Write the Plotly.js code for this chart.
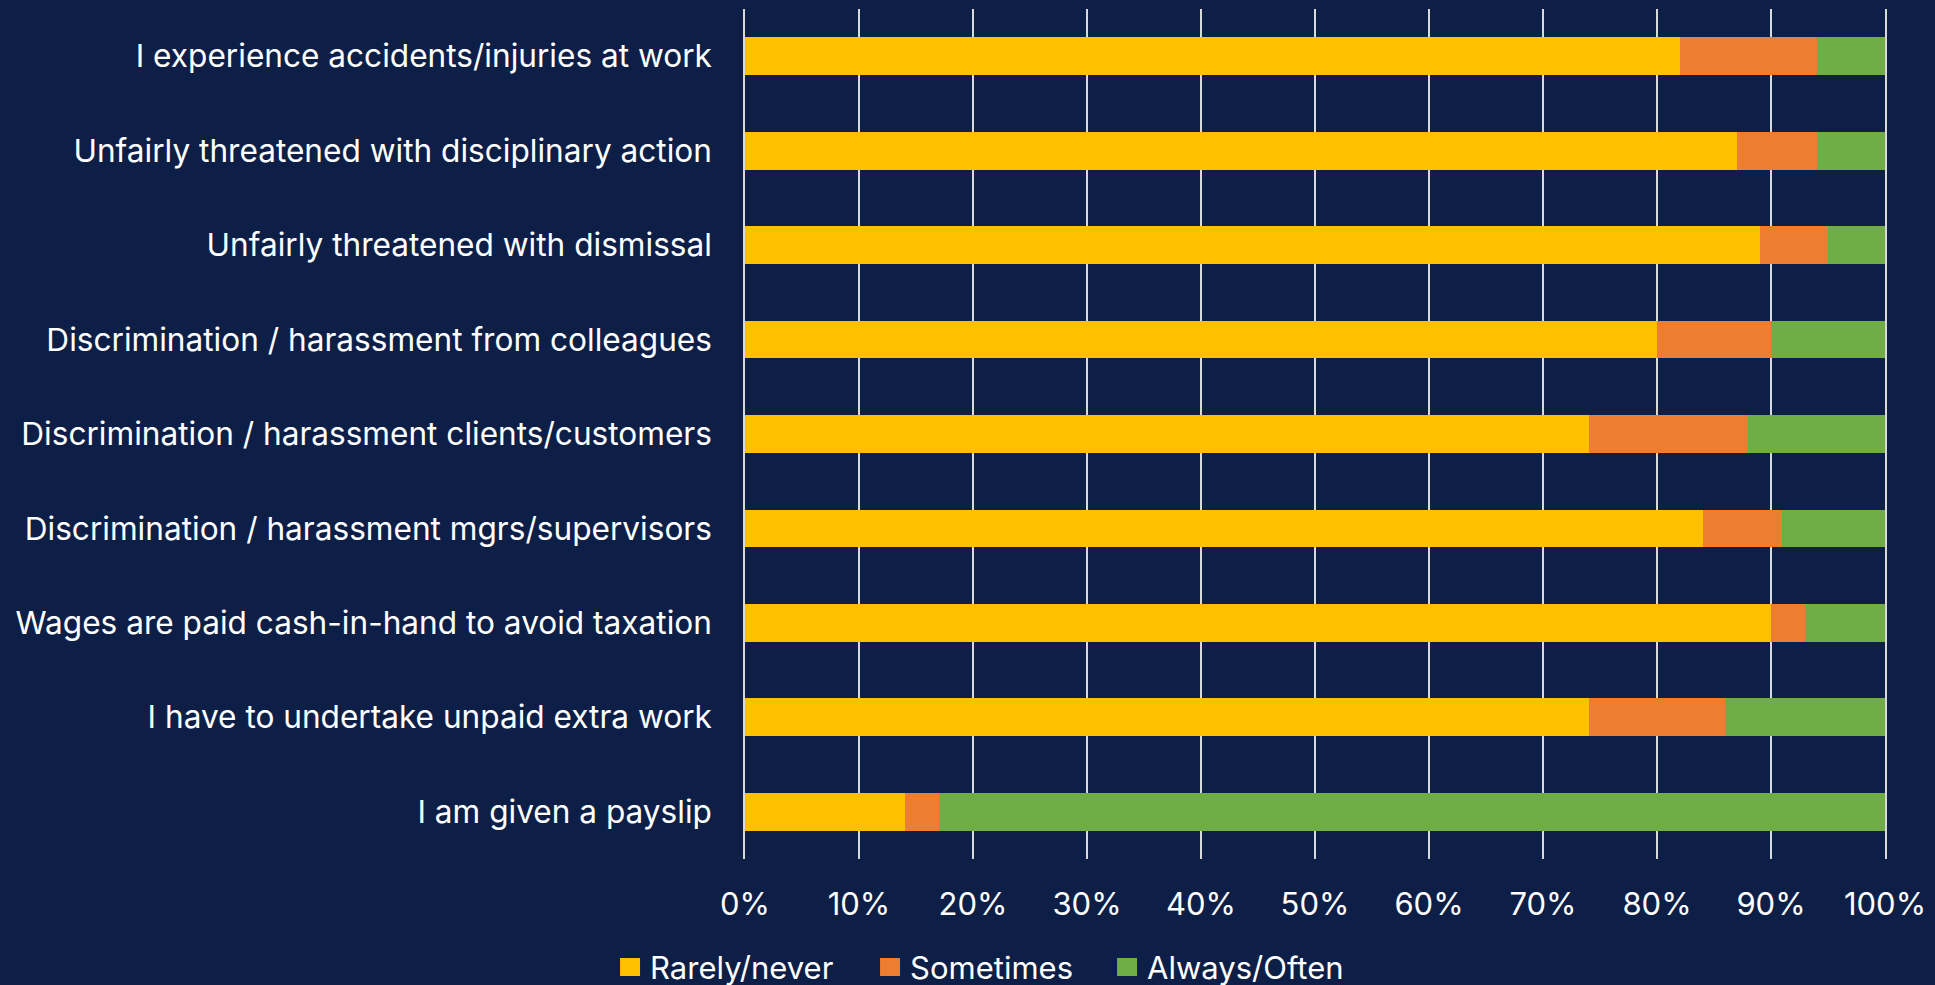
<!DOCTYPE html>
<html>
<head>
<meta charset="utf-8">
<script src="https://cdn.plot.ly/plotly-3.0.1.min.js"></script>
<style>
html,body{margin:0;padding:0;background:#0e1f47;}
#chart{width:1935px;height:985px;}
</style>
</head>
<body>
<div id="chart"></div>
<script>
const categories = [
  "I experience accidents/injuries at work",
  "Unfairly threatened with disciplinary action",
  "Unfairly threatened with dismissal",
  "Discrimination / harassment from colleagues",
  "Discrimination / harassment clients/customers",
  "Discrimination / harassment mgrs/supervisors",
  "Wages are paid cash-in-hand to avoid taxation",
  "I have to undertake unpaid extra work",
  "I am given a payslip"
];
const rarelyNever = [82, 87, 89, 80, 74, 84, 90, 74, 14];
const sometimes   = [12, 7, 6, 10, 14, 7, 3, 12, 3];
const alwaysOften = [6, 6, 5, 10, 12, 9, 7, 14, 83];
const seriesNames = ["Rarely/never", "Sometimes", "Always/Often"];
const tickVals = [0,10,20,30,40,50,60,70,80,90,100];
const tickText = ["0%","10%","20%","30%","40%","50%","60%","70%","80%","90%","100%"];

const colors = ["#ffc000", "#ed7d31", "#70ad47"];
const legendWidths = [215, 192, 200];
const font = "Inter, 'Open Sans', sans-serif";
const fs = 31;

const data = [rarelyNever, sometimes, alwaysOften].map((vals, i) => ({
  type: "bar",
  orientation: "h",
  name: seriesNames[i],
  y: categories,
  x: vals,
  legendwidth: legendWidths[i],
  marker: {color: colors[i], line: {width: 0}},
  hoverinfo: "x+y+name"
}));

const layout = {
  width: 1935,
  height: 985,
  paper_bgcolor: "#0e1f47",
  plot_bgcolor: "#0e1f47",
  barmode: "stack",
  bargap: 0.6,
  margin: {l: 745, r: 50, t: 9, b: 126},
  font: {family: font, color: "#ffffff", size: fs},
  xaxis: {
    range: [0, 100],
    tickvals: tickVals,
    ticktext: tickText,
    showgrid: true,
    gridcolor: "#d9d9d9",
    gridwidth: 1.5,
    zeroline: false,
    showline: false,
    ticks: "",
    ticklabelstandoff: 24,
    tickfont: {size: fs, color: "#ffffff", family: font},
    fixedrange: true
  },
  yaxis: {
    autorange: "reversed",
    type: "category",
    showgrid: false,
    zeroline: false,
    showline: true,
    mirror: true,
    linecolor: "#d9d9d9",
    linewidth: 1.5,
    ticks: "",
    ticklabelstandoff: 25,
    tickfont: {size: 31.6, color: "#ffffff", family: font},
    automargin: false,
    fixedrange: true
  },
  showlegend: true,
  legend: {
    orientation: "h",
    xref: "container",
    yref: "container",
    x: 0.507,
    xanchor: "center",
    y: 0.018,
    yanchor: "middle",
    font: {size: fs, color: "#ffffff", family: font},
    traceorder: "normal",
    itemclick: false,
    bgcolor: "rgba(0,0,0,0)"
  }
};

const gd = document.getElementById("chart");
function enlargeLegendSymbols() {
  gd.querySelectorAll(".legend .legendpoints path").forEach(p => {
    p.setAttribute("d", "M10,9H-10V-9H10Z");
  });
}
Plotly.newPlot(gd, data, layout, {displayModeBar: false}).then(() => {
  enlargeLegendSymbols();
  gd.on("plotly_afterplot", enlargeLegendSymbols);
});
</script>
</body>
</html>
